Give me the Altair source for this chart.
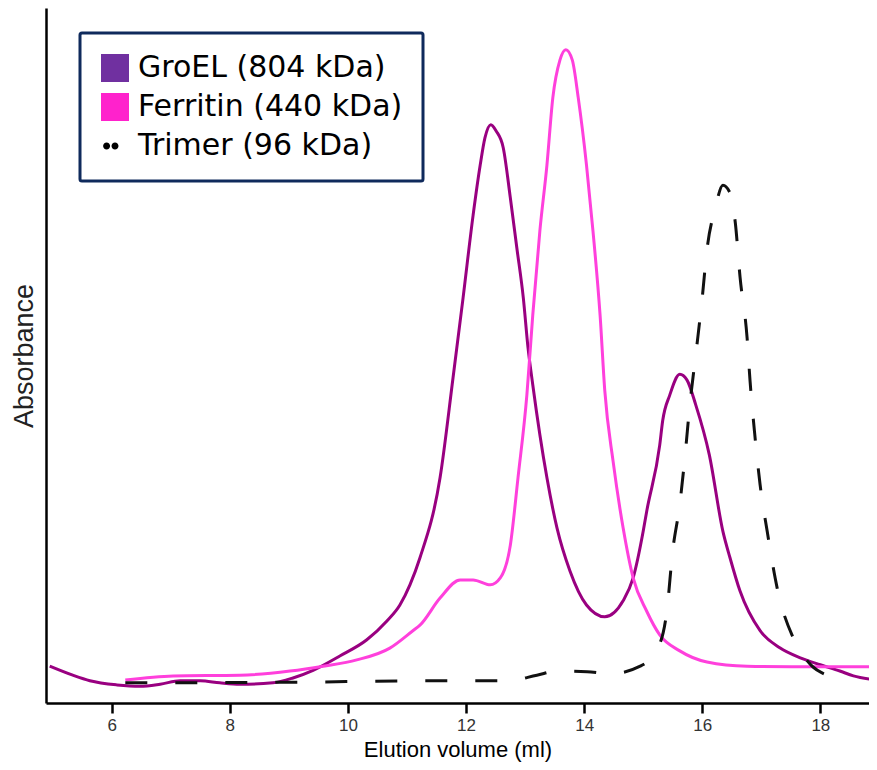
import altair as alt
import pandas as pd

# ---- data ----
series_names = ["GroEL (804 kDa)", "Ferritin (440 kDa)", "Trimer (96 kDa)"]

groel_ml = [4.95, 5.34, 5.63, 6.09, 6.48, 6.82, 7.16, 7.50, 7.83, 8.17, 8.73, 9.07, 9.41,
            9.87, 10.32, 10.66, 10.88, 11.05, 11.22, 11.56, 11.78, 11.95, 12.12, 12.24,
            12.32, 12.42, 12.51, 12.63, 12.75, 12.86, 12.97, 13.05, 13.13, 13.37, 13.54,
            13.76, 14.04, 14.35, 14.66, 14.83, 15.00, 15.06, 15.28, 15.33, 15.45, 15.62,
            15.74, 15.89, 16.12, 16.35, 16.47, 16.64, 16.98, 17.32, 17.66, 18.00, 18.33,
            18.56, 18.96]
groel_abs = [0.053, 0.040, 0.032, 0.026, 0.024, 0.027, 0.032, 0.032, 0.029, 0.027, 0.029,
             0.036, 0.047, 0.068, 0.091, 0.118, 0.141, 0.170, 0.209, 0.324, 0.468, 0.583,
             0.702, 0.774, 0.813, 0.832, 0.823, 0.799, 0.727, 0.655, 0.583, 0.511, 0.458,
             0.324, 0.252, 0.190, 0.141, 0.124, 0.147, 0.180, 0.247, 0.276, 0.371, 0.406,
             0.443, 0.473, 0.465, 0.429, 0.357, 0.247, 0.209, 0.161, 0.104, 0.079, 0.065,
             0.055, 0.046, 0.039, 0.033]

ferritin_ml = [6.23, 7.04, 8.17, 9.02, 9.58, 10.15, 10.71, 11.10, 11.22, 11.56, 11.90, 12.12,
               12.41, 12.58, 12.75, 12.88, 13.03, 13.13, 13.25, 13.37, 13.47, 13.59, 13.69,
               13.80, 13.90, 14.04, 14.15, 14.27, 14.35, 14.49, 14.66, 14.83, 15.06, 15.28,
               15.62, 16.08, 16.76, 18.00, 18.96]
ferritin_abs = [0.033, 0.039, 0.040, 0.046, 0.053, 0.062, 0.079, 0.104, 0.112, 0.151, 0.177,
                0.177, 0.170, 0.180, 0.227, 0.324, 0.443, 0.558, 0.679, 0.774, 0.871, 0.925,
                0.940, 0.925, 0.871, 0.774, 0.679, 0.558, 0.449, 0.348, 0.252, 0.180, 0.132,
                0.098, 0.075, 0.059, 0.053, 0.052, 0.052]

trimer_ml = [6.23, 9.19, 11.44, 12.71, 13.20, 13.54, 14.05, 14.44, 14.95, 15.23, 15.40, 15.50,
             15.62, 15.71, 15.79, 15.91, 16.00, 16.08, 16.22, 16.35, 16.47, 16.56, 16.64,
             16.76, 16.81, 16.89, 16.98, 17.10, 17.27, 17.54, 17.66, 17.86, 18.11, 18.45]
trimer_abs = [0.029, 0.030, 0.032, 0.032, 0.040, 0.046, 0.045, 0.042, 0.053, 0.076, 0.132,
              0.219, 0.286, 0.357, 0.429, 0.515, 0.583, 0.652, 0.712, 0.745, 0.734, 0.691,
              0.613, 0.525, 0.463, 0.386, 0.314, 0.247, 0.165, 0.094, 0.075, 0.053, 0.040,
              0.032]

x_ticks = [6, 8, 10, 12, 14, 16, 18]
line_colors = ["#990080", "#FF40DC", "#111111"]
legend_colors = ["#7030A0", "#FF22CC", "#000000"]

rows = []
for name, xs, ys in zip(series_names,
                        [groel_ml, ferritin_ml, trimer_ml],
                        [groel_abs, ferritin_abs, trimer_abs]):
    for x, y in zip(xs, ys):
        rows.append({"series": name, "ml": x, "absorbance": y})
df = pd.DataFrame(rows)

x_scale = alt.Scale(domain=[4.887, 18.824], nice=False, zero=False)
y_scale = alt.Scale(domain=[0, 1], nice=False, zero=False)

x_axis = alt.Axis(values=x_ticks, format="d", title="Elution volume (ml)", grid=False,
                  domainColor="black", domainWidth=2.5, tickColor="black", tickWidth=2.5,
                  tickSize=10, labelFont="Liberation Sans", labelFontSize=17,
                  labelColor="#333333", labelPadding=4, labelFlush=False,
                  titleFont="Liberation Sans", titleFontSize=22, titleFontWeight="normal",
                  titleColor="black", titlePadding=6)
y_axis = alt.Axis(title="Absorbance", labels=False, ticks=False, grid=False,
                  domainColor="black", domainWidth=2.5,
                  titleFont="Liberation Sans", titleFontSize=27, titleFontWeight="normal",
                  titleColor="#222222", titlePadding=8)

base = alt.Chart(df)
enc = dict(x=alt.X("ml:Q", scale=x_scale, axis=x_axis),
           y=alt.Y("absorbance:Q", scale=y_scale, axis=y_axis))

layers = []
for name, color in zip(series_names, line_colors):
    kw = dict(color=color, strokeWidth=3, clip=True, interpolate="monotone")
    if name.startswith("Trimer"):
        kw["strokeDash"] = [22, 28]
    layers.append(base.transform_filter(alt.datum.series == name).mark_line(**kw).encode(**enc))

two_dots = ("M-0.85,0A0.25,0.25,0,1,1,-0.35,0A0.25,0.25,0,1,1,-0.85,0Z"
            "M-0.25,0A0.25,0.25,0,1,1,0.25,0A0.25,0.25,0,1,1,-0.25,0Z")

leg = alt.Legend(title=None, orient="none", legendX=34, legendY=25, padding=20,
                 rowPadding=9, symbolSize=784, symbolOpacity=1, symbolStrokeWidth=0,
                 labelFont="DejaVu Sans", labelFontSize=30, labelColor="black",
                 labelOffset=8, labelLimit=500, strokeColor="#0F2A5C",
                 fillColor="white")

legend_layer = base.mark_point(filled=True, opacity=0).encode(
    **enc,
    fill=alt.Fill("series:N", scale=alt.Scale(domain=series_names, range=legend_colors),
                  legend=leg),
    shape=alt.Shape("series:N",
                    scale=alt.Scale(domain=series_names, range=["square", "square", two_dots]),
                    legend=leg),
)

chart = alt.layer(*layers, legend_layer).properties(
    width=823, height=695,
    autosize=alt.AutoSizeParams(type="none"),
    padding={"left": 38, "top": 0, "right": 0, "bottom": 59},
    background="white",
).configure_view(stroke=None).configure_legend(strokeWidth=3, cornerRadius=2)

chart.save("out.html", embed_options={"renderer": "svg", "actions": False})
